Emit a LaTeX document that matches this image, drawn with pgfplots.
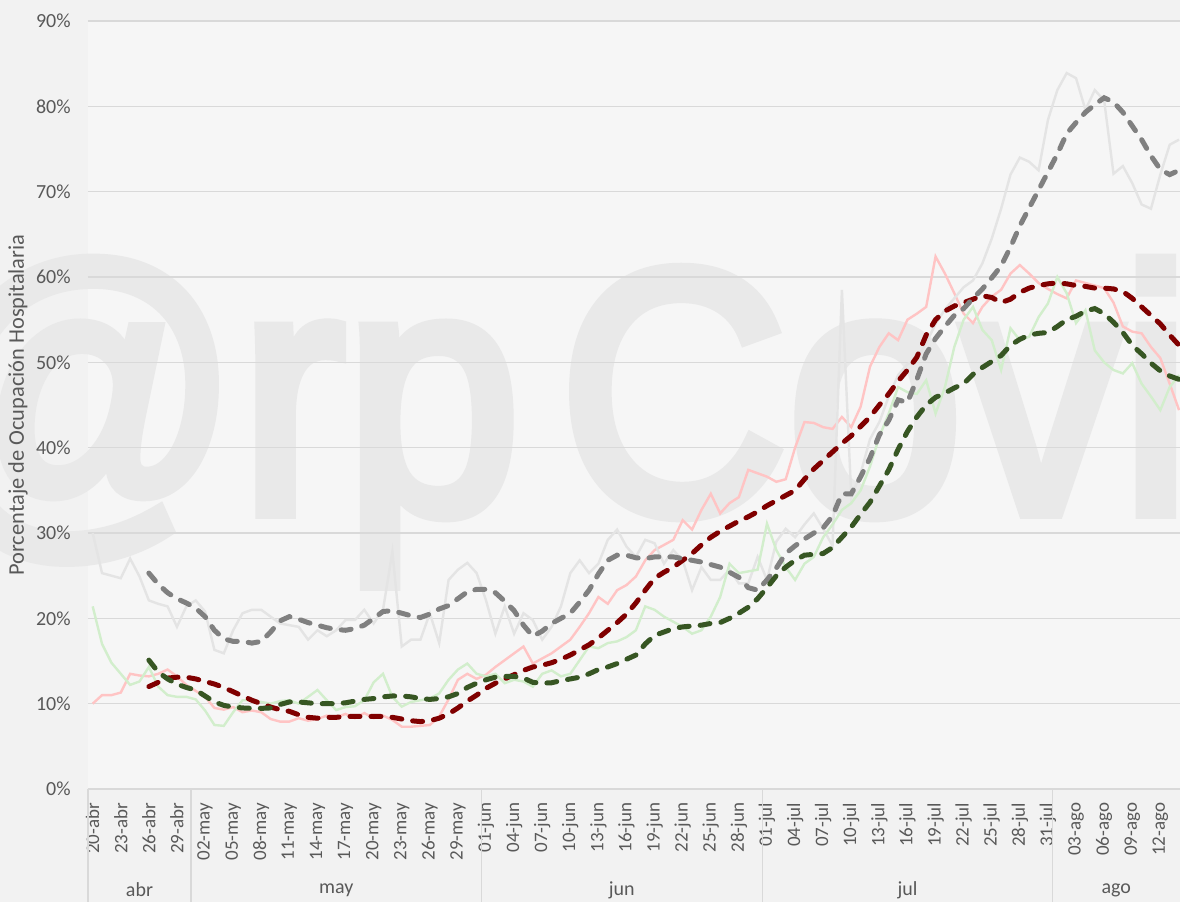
\documentclass[border=0pt]{standalone}
\usepackage{fontspec}
\setmainfont{Carlito}
\newfontfamily\wmfont{Liberation Sans}[FakeBold=4]
\usepackage{pgfplots}
\usepackage{pgfplotstable}
\pgfplotsset{compat=1.18}
\definecolor{txt}{RGB}{89,89,89}
\definecolor{gridc}{RGB}{217,217,217}
\definecolor{bgout}{RGB}{242,242,242}
\definecolor{bgin}{RGB}{246,246,246}
\definecolor{wm}{RGB}{233,233,233}
\definecolor{pinkl}{RGB}{255,196,196}
\definecolor{redd}{RGB}{128,0,0}
\definecolor{greyl}{RGB}{228,228,228}
\definecolor{greyd}{RGB}{128,128,128}
\definecolor{greenl}{RGB}{210,238,204}
\definecolor{greend}{RGB}{55,86,35}

\pgfplotstableread{
x p r lg g lgr dg
0 10.0 nan 30.0 nan 21.4 nan
1 11.0 nan 25.3 nan 17.0 nan
2 11.0 nan 25.0 nan 14.8 nan
3 11.3 nan 24.7 nan 13.5 nan
4 13.5 nan 27.0 nan 12.2 nan
5 13.3 nan 24.9 nan 12.6 nan
6 13.2 12.0 22.1 25.3 14.3 15.1
7 13.5 12.5 21.7 24.0 12.0 13.7
8 14.0 13.0 21.4 23.0 11.0 12.9
9 13.2 13.1 19.0 22.3 10.8 12.3
10 12.2 13.1 21.4 21.8 10.8 11.9
11 11.5 12.9 22.1 21.2 10.5 11.6
12 10.8 12.6 20.8 20.2 9.2 10.9
13 9.5 12.3 16.3 18.6 7.5 10.2
14 9.3 11.9 15.9 17.6 7.4 9.8
15 9.6 11.4 18.6 17.3 9.0 9.6
16 9.0 10.9 20.6 17.3 10.4 9.5
17 9.2 10.4 21.0 17.1 10.4 9.45
18 9.0 10.0 21.0 17.3 10.2 9.45
19 8.2 9.6 20.2 18.4 10.0 9.5
20 7.9 9.3 19.4 19.7 10.3 9.9
21 7.9 9.1 19.2 20.2 10.4 10.2
22 8.3 8.7 19.0 19.9 10.0 10.2
23 8.0 8.4 17.5 19.5 10.8 10.1
24 8.2 8.3 18.6 19.2 11.6 10.0
25 8.6 8.4 17.9 18.9 10.4 10.0
26 8.4 8.4 18.6 18.7 9.25 10.0
27 8.8 8.5 19.8 18.6 9.6 10.1
28 8.3 8.5 19.8 18.8 9.7 10.3
29 8.9 8.5 21.0 19.2 10.4 10.5
30 8.3 8.5 19.4 20.0 12.5 10.6
31 8.6 8.5 21.0 20.8 13.5 10.8
32 8.1 8.4 27.8 20.9 10.8 10.9
33 7.3 8.2 16.7 20.6 9.65 10.9
34 7.3 8.0 17.5 20.3 10.2 10.8
35 7.4 7.9 17.5 20.1 10.4 10.6
36 7.5 8.0 20.6 20.5 10.6 10.5
37 8.5 8.3 17.1 21.1 11.2 10.6
38 10.5 8.8 24.5 21.5 12.8 10.8
39 12.8 9.5 25.7 22.3 14.0 11.2
40 13.5 10.3 26.5 23.1 14.7 11.9
41 12.9 11.0 25.3 23.4 13.5 12.4
42 13.4 11.8 22.1 23.4 13.2 12.8
43 14.3 12.4 18.2 23.0 13.5 13.1
44 15.1 12.9 21.4 22.0 12.4 13.2
45 15.9 13.4 18.2 20.9 12.8 13.2
46 16.7 13.9 20.6 19.2 12.6 13.0
47 14.7 14.3 19.8 17.9 12.0 12.5
48 15.3 14.5 17.5 18.5 13.5 12.4
49 15.9 14.8 19.0 19.4 13.9 12.45
50 16.7 15.2 21.4 20.0 13.2 12.7
51 17.5 15.7 25.3 20.6 13.5 12.9
52 19.0 16.3 26.8 21.9 15.1 13.1
53 20.6 16.9 25.3 23.3 16.7 13.5
54 22.5 17.7 26.4 25.2 16.5 14.0
55 21.7 18.6 29.2 26.8 17.1 14.3
56 23.3 19.5 30.4 27.4 17.3 14.7
57 23.9 20.5 28.4 27.4 17.8 15.2
58 24.9 21.8 27.2 27.1 18.6 15.7
59 26.8 23.3 29.2 27.0 21.4 17.0
60 28.0 24.7 28.8 27.2 21.0 18.0
61 28.6 25.4 26.4 27.2 20.2 18.4
62 29.2 26.0 28.0 27.2 19.6 18.8
63 31.5 26.8 26.8 27.0 19.0 19.0
64 30.4 27.6 23.3 26.8 18.2 19.1
65 32.7 28.6 26.0 26.6 18.6 19.2
66 34.6 29.5 24.5 26.3 20.2 19.4
67 32.3 30.2 24.5 26.0 22.5 19.5
68 33.5 30.8 25.7 25.4 26.4 20.0
69 34.2 31.4 24.1 24.8 25.3 20.6
70 37.4 31.9 24.1 23.6 25.5 21.3
71 37.0 32.5 27.2 23.3 25.7 22.3
72 36.6 33.2 24.5 24.5 31.1 23.6
73 36.0 33.8 29.0 25.9 28.0 25.0
74 36.3 34.4 30.5 27.6 26.0 26.0
75 40.0 35.0 29.5 28.5 24.5 26.8
76 43.0 36.3 31.0 29.3 26.4 27.4
77 42.9 37.5 32.3 30.0 27.2 27.5
78 42.4 38.5 30.5 30.6 29.5 27.6
79 42.2 39.5 28.5 32.0 31.0 28.3
80 43.6 40.5 58.5 34.6 32.7 29.5
81 42.4 41.4 34.2 34.6 33.5 30.7
82 44.8 42.5 37.0 36.6 35.0 32.2
83 49.5 43.6 41.0 38.8 37.8 33.6
84 51.8 45.0 43.0 41.5 41.3 35.5
85 53.4 46.3 46.0 43.2 44.0 37.4
86 52.6 47.8 48.5 45.6 47.1 39.8
87 55.0 49.1 49.8 45.3 46.5 41.9
88 55.7 50.6 50.3 48.0 46.3 43.6
89 56.5 53.2 52.3 51.0 47.9 45.0
90 62.4 55.0 54.5 52.8 44.0 45.9
91 60.4 56.0 56.2 54.2 47.1 46.4
92 58.1 56.6 57.5 55.5 51.8 47.0
93 55.7 57.0 58.8 56.3 55.0 47.5
94 54.6 57.4 59.6 57.5 56.5 48.6
95 56.5 57.8 61.6 58.6 53.8 49.4
96 57.7 57.6 64.5 59.9 52.6 50.1
97 58.5 57.0 68.0 61.3 49.1 50.8
98 60.4 57.4 72.0 63.5 54.0 52.0
99 61.4 58.2 74.0 66.0 52.6 52.7
100 60.4 58.7 73.5 68.1 53.0 53.2
101 59.3 59.0 72.5 70.2 55.3 53.4
102 58.6 59.2 78.4 72.3 56.9 53.5
103 58.0 59.3 81.9 74.4 60.0 54.2
104 57.5 59.2 83.9 76.8 58.1 55.0
105 59.6 59.0 83.3 78.1 54.6 55.4
106 59.3 58.9 79.6 79.3 56.1 56.0
107 59.0 58.7 81.9 80.2 51.4 56.3
108 58.7 58.7 80.7 81.0 50.0 55.7
109 57.0 58.6 72.1 80.5 49.1 54.7
110 54.2 58.3 73.0 79.3 48.7 53.5
111 53.6 57.5 71.0 77.7 49.9 52.0
112 53.4 56.5 68.5 76.1 47.5 51.0
113 51.8 55.5 68.0 74.2 46.0 49.9
114 50.5 54.5 72.0 72.6 44.4 49.0
115 47.5 53.2 75.5 72.0 47.1 48.4
116 44.4 52.0 76.1 72.5 48.5 48.0
}\data

\begin{document}
\begin{tikzpicture}
\useasboundingbox (-44pt,-56.5pt) rectangle (546pt,394.5pt);
\fill[bgout] (-44pt,-56.5pt) rectangle (546pt,394.5pt);
\fill[bgin] (0,0) rectangle (546pt,384pt);
\begin{scope}
\clip (-44pt,-56.5pt) rectangle (546pt,394.5pt);
\node[text=wm, font=\wmfont\fontsize{173.5}{173.5}\selectfont, anchor=base west, inner sep=0pt, xscale=0.91] at (-84.5pt,138.5pt) {@rp};
\node[text=wm, font=\wmfont\fontsize{173.5}{173.5}\selectfont, anchor=base west, inner sep=0pt, xscale=0.91] at (235.5pt,138.5pt) {Covid19};
\end{scope}
\begin{axis}[
  at={(0,0)}, anchor=south west, scale only axis,
  width=546pt, height=384pt,
  xmin=-0.5, xmax=116.1, ymin=0, ymax=90,
  clip mode=individual,
  axis line style={draw=none},
  ymajorgrids, grid style={gridc, line width=0.8pt},
  major tick length=0pt,
  ytick={0,10,...,90},
  yticklabels={0\%,10\%,20\%,30\%,40\%,50\%,60\%,70\%,80\%,90\%},
  xtick={0,3,...,114},
  xticklabels={20-abr,23-abr,26-abr,29-abr,02-may,05-may,08-may,11-may,14-may,17-may,20-may,23-may,26-may,29-may,01-jun,04-jun,07-jun,10-jun,13-jun,16-jun,19-jun,22-jun,25-jun,28-jun,01-jul,04-jul,07-jul,10-jul,13-jul,16-jul,19-jul,22-jul,25-jul,28-jul,31-jul,03-ago,06-ago,09-ago,12-ago},
  tick label style={text=txt},
  y tick label style={font=\fontsize{10}{12}\selectfont, anchor=east, inner sep=0pt},
  yticklabel shift=8.5pt,
  x tick label style={font=\fontsize{9.5}{11}\selectfont, rotate=90, anchor=east, inner sep=0pt},
  xticklabel shift=6.75pt,
  ylabel={Porcentaje de Ocupación Hospitalaria},
  every axis y label/.style={at={(axis description cs:0,0.5)}, xshift=-35pt, rotate=90, anchor=center, text=txt, font=\fontsize{11.2}{13}\selectfont},
]
\addplot[pinkl, line width=1.2pt] table[x=x,y=p] {\data};
\addplot[greyl, line width=1.2pt] table[x=x,y=lg] {\data};
\addplot[greenl, line width=1.2pt] table[x=x,y=lgr] {\data};
\addplot[redd, line width=2.5pt, line cap=round, dash pattern=on 5pt off 5.5pt] table[x=x,y=r] {\data};
\addplot[greyd, line width=2.5pt, line cap=round, dash pattern=on 5pt off 5.5pt] table[x=x,y=g] {\data};
\addplot[greend, line width=2.5pt, line cap=round, dash pattern=on 5pt off 5.5pt] table[x=x,y=dg] {\data};
\draw[gridc, line width=0.8pt] (axis cs:-0.5,0) -- ++(0pt,-56.5pt);
\draw[gridc, line width=0.8pt] (axis cs:10.5,0) -- ++(0pt,-56.5pt);
\draw[gridc, line width=0.8pt] (axis cs:41.5,0) -- ++(0pt,-56.5pt);
\draw[gridc, line width=0.8pt] (axis cs:71.5,0) -- ++(0pt,-56.5pt);
\draw[gridc, line width=0.8pt] (axis cs:102.5,0) -- ++(0pt,-56.5pt);
\path[text=txt, font=\fontsize{10}{12}\selectfont]
  (axis cs:5,0) ++(0pt,-50.5pt) node {abr}
  (axis cs:26,0) ++(0pt,-50.5pt) node {may}
  (axis cs:56.5,0) ++(0pt,-50.5pt) node {jun}
  (axis cs:87,0) ++(0pt,-50.5pt) node {jul}
  (axis cs:109.3,0) ++(0pt,-50.5pt) node {ago};
\end{axis}
\end{tikzpicture}
\end{document}
